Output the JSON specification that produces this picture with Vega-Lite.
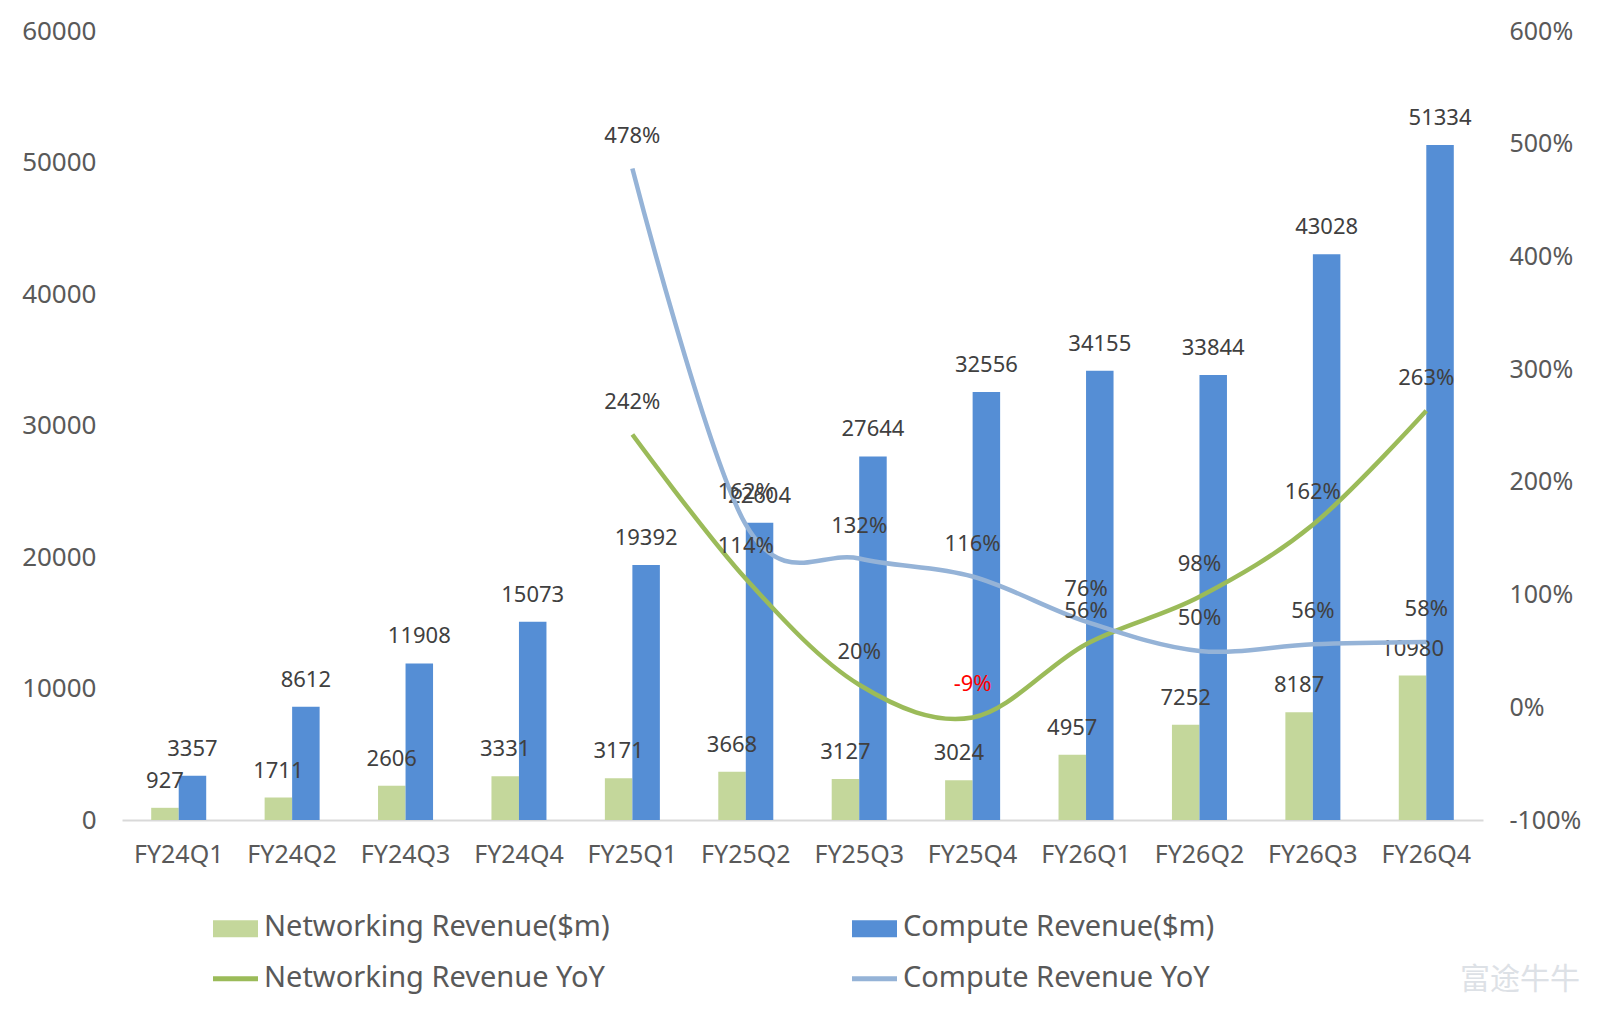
{
  "$schema": "https://vega.github.io/schema/vega-lite/v6.json",
  "autosize": {"type": "none"},
  "width": 1361,
  "height": 789,
  "padding": {"left": 122, "top": 31, "right": 117, "bottom": 193},
  "background": "white",
  "config": {
    "view": {"stroke": null},
    "font": "Noto Sans",
    "axis": {"labelFont": "Noto Sans", "labelColor": "#595959", "labelFontSize": 25, "ticks": false, "grid": false}
  },
  "title": {"text": "富途牛牛", "orient": "bottom", "anchor": "end", "frame": "group", "font": "Noto Sans CJK SC", "fontSize": 30, "fontWeight": "normal", "color": "#DDE1E6", "dx": 97, "offset": -28},
  "data": {
    "values": [
      {"quarter": "FY24Q1", "networking": 927, "compute": 3357, "networking_yoy": null, "compute_yoy": null},
      {"quarter": "FY24Q2", "networking": 1711, "compute": 8612, "networking_yoy": null, "compute_yoy": null},
      {"quarter": "FY24Q3", "networking": 2606, "compute": 11908, "networking_yoy": null, "compute_yoy": null},
      {"quarter": "FY24Q4", "networking": 3331, "compute": 15073, "networking_yoy": null, "compute_yoy": null},
      {"quarter": "FY25Q1", "networking": 3171, "compute": 19392, "networking_yoy": 2.42, "compute_yoy": 4.78},
      {"quarter": "FY25Q2", "networking": 3668, "compute": 22604, "networking_yoy": 1.14, "compute_yoy": 1.62},
      {"quarter": "FY25Q3", "networking": 3127, "compute": 27644, "networking_yoy": 0.20, "compute_yoy": 1.32},
      {"quarter": "FY25Q4", "networking": 3024, "compute": 32556, "networking_yoy": -0.09, "compute_yoy": 1.16},
      {"quarter": "FY26Q1", "networking": 4957, "compute": 34155, "networking_yoy": 0.56, "compute_yoy": 0.76},
      {"quarter": "FY26Q2", "networking": 7252, "compute": 33844, "networking_yoy": 0.98, "compute_yoy": 0.50},
      {"quarter": "FY26Q3", "networking": 8187, "compute": 43028, "networking_yoy": 1.62, "compute_yoy": 0.56},
      {"quarter": "FY26Q4", "networking": 10980, "compute": 51334, "networking_yoy": 2.63, "compute_yoy": 0.58}
    ]
  },
  "layer": [
    {
      "transform": [{"fold": ["networking", "compute"], "as": ["series", "revenue"]}],
      "encoding": {
        "x": {
          "field": "quarter", "type": "nominal", "sort": null, "title": null,
          "scale": {"paddingInner": 0.515, "paddingOuter": 0.2575},
          "axis": {"labelAngle": 0, "domain": true, "domainColor": "#D9D9D9", "domainWidth": 2, "labelPadding": 34, "labelBaseline": "middle"}
        },
        "y": {
          "field": "revenue", "type": "quantitative", "title": null,
          "scale": {"domain": [0, 60000], "nice": false, "zero": true},
          "axis": {"values": [0, 10000, 20000, 30000, 40000, 50000, 60000], "format": "d", "domain": false, "labelPadding": 26, "labelFontSize": 26}
        }
      },
      "layer": [
        {
          "mark": {"type": "bar"},
          "encoding": {
            "xOffset": {"field": "series", "type": "nominal", "sort": ["networking", "compute"], "scale": {"paddingInner": 0, "paddingOuter": 0}},
            "color": {
              "field": "series", "type": "nominal",
              "scale": {"domain": ["networking", "compute", "networking_yoy", "compute_yoy"], "range": ["#C4D79B", "#558ED5", "#9BBB59", "#95B3D7"]},
              "legend": {
                "orient": "none", "legendX": 99, "legendY": 881, "columns": 2, "direction": "horizontal",
                "title": null, "padding": 0, "rowPadding": 21, "columnPadding": 232,
                "symbolSize": 2025, "symbolType": "M-1,-0.29H1V0.47H-1Z",
                "labelFontSize": 29, "labelColor": "#595959", "labelFont": "Noto Sans", "labelOffset": 14, "labelLimit": 500,
                "labelExpr": "datum.value == 'networking' ? 'Networking Revenue($m)' : datum.value == 'compute' ? 'Compute Revenue($m)' : datum.value == 'networking_yoy' ? 'Networking Revenue YoY' : 'Compute Revenue YoY'",
                "encode": {
                  "symbols": {
                    "update": {
                      "shape": {"signal": "(datum.value == 'networking_yoy' || datum.value == 'compute_yoy') ? 'M-1,0.05H1' : 'M-1,-0.29H1V0.47H-1Z'"},
                      "fill": {"signal": "datum.value == 'networking' ? '#C4D79B' : datum.value == 'compute' ? '#558ED5' : 'transparent'"},
                      "stroke": {"signal": "datum.value == 'networking_yoy' ? '#9BBB59' : datum.value == 'compute_yoy' ? '#95B3D7' : 'transparent'"},
                      "strokeWidth": {"signal": "(datum.value == 'networking_yoy' || datum.value == 'compute_yoy') ? 5 : 0"}
                    }
                  }
                }
              }
            }
          }
        },
        {
          "mark": {"type": "text", "fontSize": 22, "color": "#404040", "baseline": "middle", "align": "center", "dy": -27},
          "encoding": {
            "xOffset": {"field": "series", "type": "nominal", "sort": ["networking", "compute"]},
            "text": {"field": "revenue", "type": "quantitative", "format": "d"}
          }
        }
      ]
    },
    {
      "transform": [
        {"fold": ["networking_yoy", "compute_yoy"], "as": ["series", "yoy"]},
        {"filter": "datum.yoy != null"},
        {"calculate": "replace(format(datum.yoy, '.0%'), '\u2212', '-')", "as": "yoy_label"}
      ],
      "encoding": {
        "x": {"field": "quarter", "type": "nominal", "sort": null},
        "y": {
          "field": "yoy", "type": "quantitative", "title": null,
          "scale": {"domain": [-1, 6], "nice": false, "zero": false},
          "axis": {"orient": "right", "values": [-1, 0, 1, 2, 3, 4, 5, 6], "format": ".0%", "labelExpr": "replace(datum.label, '\u2212', '-')", "domain": false, "labelPadding": 26, "labelFontSize": 25}
        }
      },
      "layer": [
        {
          "mark": {"type": "line", "interpolate": "cardinal", "strokeWidth": 4.5},
          "encoding": {
            "color": {"field": "series", "type": "nominal"}
          }
        },
        {
          "mark": {"type": "text", "fontSize": 22, "baseline": "middle", "align": "center", "dy": -33},
          "encoding": {
            "text": {"field": "yoy_label", "type": "nominal"},
            "color": {"condition": {"test": "datum.yoy < 0", "value": "#FF0000"}, "value": "#404040"}
          }
        }
      ]
    }
  ],
  "resolve": {"scale": {"y": "independent"}}
}
